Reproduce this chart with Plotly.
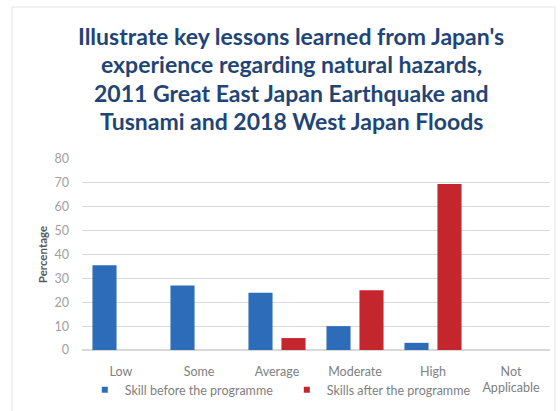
import plotly.graph_objects as go

# Skill levels and percentages of respondents before / after the programme
categories = ["Low", "Some", "Average", "Moderate", "High", "Not<br>Applicable"]
skill_before = [35.5, 27, 24, 10, 3, 0]
skill_after = [0, 0, 5, 25, 69.5, 0]
y_ticks = [0, 10, 20, 30, 40, 50, 60, 70, 80]
series_names = ["Skill before the programme", "Skills after the programme"]

title_lines = [
    "Illustrate key lessons learned from Japan's",
    "experience regarding natural hazards,",
    "2011 Great East Japan Earthquake and",
    "Tusnami and 2018 West Japan Floods",
]

BLUE = "#2C6CB8"
RED = "#C3272D"
TITLE_COLOR = "#1F4576"
TICK_COLOR = "#808080"
FONT = "Lato"

PLOT_W, PLOT_H = 468, 191

fig = go.Figure()
for vals, name, color in [(skill_before, series_names[0], BLUE),
                          (skill_after, series_names[1], RED)]:
    fig.add_trace(go.Bar(
        x=categories, y=vals, name=name, showlegend=False,
        marker=dict(color=color, line=dict(width=0)),
    ))

# Small square legend keys
for name, color in zip(series_names, [BLUE, RED]):
    fig.add_trace(go.Scatter(
        x=[None], y=[None], mode="markers", name=name,
        marker=dict(symbol="square", size=6, color=color),
    ))

# Title drawn line by line to control spacing
for i, line in enumerate(title_lines):
    fig.add_annotation(
        text=f"<b>{line}</b>", xref="paper", yref="paper",
        x=0.447, y=1.0, yanchor="middle", xanchor="center",
        yshift=(159 - 36) - i * 28.4,
        showarrow=False,
        font=dict(family=FONT, size=23, color=TITLE_COLOR),
    )

# Light outer frame of the chart area
fig.add_shape(
    type="rect", xref="paper", yref="paper",
    x0=-70 / PLOT_W, x1=1 + 5 / PLOT_W, y0=-0.4, y1=1 + 152 / PLOT_H,
    line=dict(color="#E4E4E4", width=1), fillcolor="rgba(0,0,0,0)",
)

fig.update_layout(
    width=560, height=411,
    margin=dict(l=82, r=10, t=159, b=61, autoexpand=False),
    paper_bgcolor="white", plot_bgcolor="white",
    barmode="group", bargap=0.154, bargroupgap=0.27,
    showlegend=True,
    legend=dict(
        orientation="h", x=0.006, y=-0.21, xanchor="left", yanchor="middle",
        bgcolor="rgba(0,0,0,0)",
        font=dict(family=FONT, size=12.5, color=TICK_COLOR),
        entrywidth=157, entrywidthmode="pixels", tracegroupgap=0,
    ),
    font=dict(family=FONT, size=12.5, color=TICK_COLOR),
)
fig.update_xaxes(
    showgrid=False, showline=False, ticks="", ticklabelstandoff=12,
    tickfont=dict(family=FONT, size=12.5, color=TICK_COLOR),
)
fig.update_yaxes(
    range=[0, 80], tickvals=y_ticks, showgrid=True, gridcolor="#D9D9D9",
    gridwidth=1, zeroline=True, zerolinecolor="#D9D9D9", showline=False,
    tickfont=dict(family=FONT, size=12.5, color="#A0A0A0"), ticks="",
    ticklabelstandoff=12,
    title=dict(text="<b>Percentage</b>", font=dict(family=FONT, size=11.5, color="#595959"), standoff=4),
)

fig.write_html("out.html")
